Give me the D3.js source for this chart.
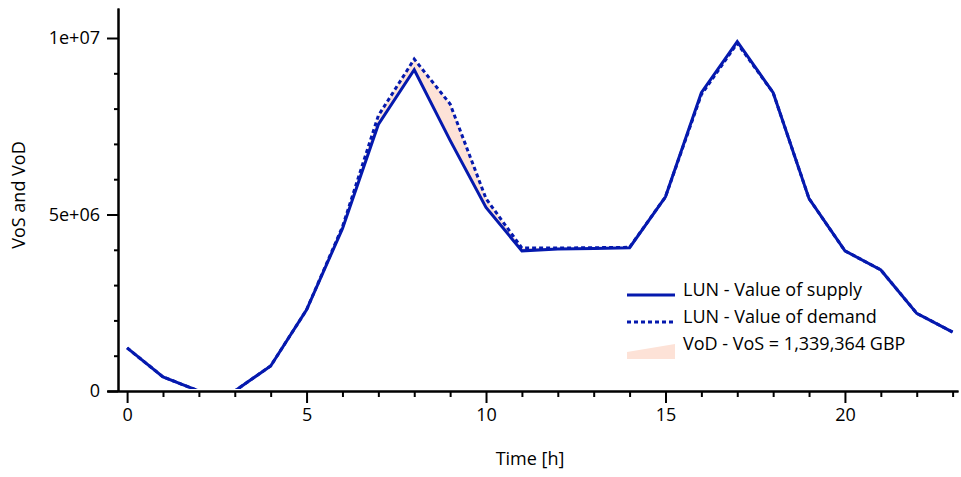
<!DOCTYPE html>
<html>
<head>
<meta charset="utf-8">
<script src="https://cdn.jsdelivr.net/npm/d3@7"></script>
<style>
body{margin:0;background:#fff;}
text{font-family:"Open Sans","Noto Sans",sans-serif;}
</style>
</head>
<body>
<svg id="chart"></svg>
<script>
// hourly values
var hours  = [0,1,2,3,4,5,6,7,8,9,10,11,12,13,14,15,16,17,18,19,20,21,22,23];
var supply = [1.22e6,0.40e6,0,0,0.71e6,2.30e6,4.60e6,7.55e6,9.10e6,7.10e6,5.20e6,3.97e6,4.02e6,4.04e6,4.06e6,5.50e6,8.45e6,9.90e6,8.45e6,5.45e6,3.97e6,3.43e6,2.20e6,1.67e6];
var demand = [1.22e6,0.40e6,0,0,0.71e6,2.30e6,4.65e6,7.80e6,9.40e6,8.13e6,5.45e6,4.05e6,4.05e6,4.06e6,4.07e6,5.50e6,8.40e6,9.85e6,8.45e6,5.45e6,3.97e6,3.43e6,2.20e6,1.67e6];
var yMajor = [0,5e6,1e7];
var yMinor = [1e6,2e6,3e6,4e6,6e6,7e6,8e6,9e6];
var xMajor = [0,5,10,15,20];
var legendLabels = ['LUN - Value of supply','LUN - Value of demand','VoD - VoS = 1,339,364 GBP'];

var blue = '#0519ae';
var fillCol = '#fde2d7';
var fs = 18;

var svg = d3.select('#chart').attr('width',961).attr('height',477);

var x = d3.scaleLinear().domain([-0.56,23.15]).range([107,958]);
var y = d3.scaleLinear().domain([0,1.085e7]).range([391,8]);

var pts = hours.map(function(h,i){ return {h:h, s:supply[i], d:demand[i]}; });

// keep the lines above the x axis line
svg.append('clipPath').attr('id','plotclip')
	.append('rect').attr('x',100).attr('y',0).attr('width',861).attr('height',389);

var plot = svg.append('g').attr('clip-path','url(#plotclip)');

// shaded gap where demand is above supply
plot.append('path')
	.datum(pts)
	.attr('fill',fillCol)
	.attr('d',d3.area()
		.x(function(d){ return x(d.h); })
		.y0(function(d){ return y(d.s); })
		.y1(function(d){ return y(Math.max(d.s,d.d)); }));

plot.append('path')
	.datum(pts)
	.attr('fill','none')
	.attr('stroke',blue)
	.attr('stroke-width',3)
	.attr('stroke-dasharray','4,3')
	.attr('d',d3.line().x(function(d){ return x(d.h); }).y(function(d){ return y(d.d); }));

plot.append('path')
	.datum(pts)
	.attr('fill','none')
	.attr('stroke',blue)
	.attr('stroke-width',3)
	.attr('d',d3.line().x(function(d){ return x(d.h); }).y(function(d){ return y(d.s); }));

// axes
var yMin = svg.append('g').attr('transform','translate(118,0)')
	.call(d3.axisLeft(y).tickValues(yMinor).tickSize(4).tickSizeOuter(0).tickFormat(''));
var yMaj = svg.append('g').attr('transform','translate(118,0)')
	.call(d3.axisLeft(y).tickValues(yMajor).tickSize(11).tickSizeOuter(0).tickPadding(7)
		.tickFormat(function(d){ return d==0 ? '0' : d3.format('.0e')(d).replace('e+','e+0'); }));

var xMinor = hours.filter(function(h){ return h%5 != 0; });
var xMin = svg.append('g').attr('transform','translate(0,391)')
	.call(d3.axisBottom(x).tickValues(xMinor).tickSize(6).tickSizeOuter(0).tickFormat(''));
var xMaj = svg.append('g').attr('transform','translate(0,391)')
	.call(d3.axisBottom(x).tickValues(xMajor).tickSize(12).tickSizeOuter(0).tickPadding(5));

[yMin,yMaj,xMin,xMaj].forEach(function(g){
	g.selectAll('path,line').attr('stroke','#000').attr('stroke-width',2);
	g.selectAll('text').attr('font-size',fs).attr('fill','#000')
		.attr('font-family','"Open Sans","Noto Sans",sans-serif');
});

svg.append('text')
	.attr('x',530).attr('y',465)
	.attr('text-anchor','middle')
	.attr('font-size',fs)
	.text('Time [h]');

svg.append('text')
	.attr('transform','translate(25,195) rotate(-90)')
	.attr('text-anchor','middle')
	.attr('font-size',fs)
	.text('VoS and VoD');

// legend
var lg = svg.append('g').attr('transform','translate(627,0)');
lg.append('line').attr('x1',0).attr('x2',48).attr('y1',295).attr('y2',295)
	.attr('stroke',blue).attr('stroke-width',3);
lg.append('line').attr('x1',0).attr('x2',48).attr('y1',322).attr('y2',322)
	.attr('stroke',blue).attr('stroke-width',3).attr('stroke-dasharray','4,3');
lg.append('path').attr('d','M0,359L0,352L48,344L48,359Z').attr('fill',fillCol);
lg.selectAll('.lab').data(legendLabels).enter().append('text')
	.attr('x',56)
	.attr('y',function(d,i){ return 296 + i*27; })
	.attr('font-size',fs)
	.text(function(d){ return d; });
</script>
</body>
</html>
